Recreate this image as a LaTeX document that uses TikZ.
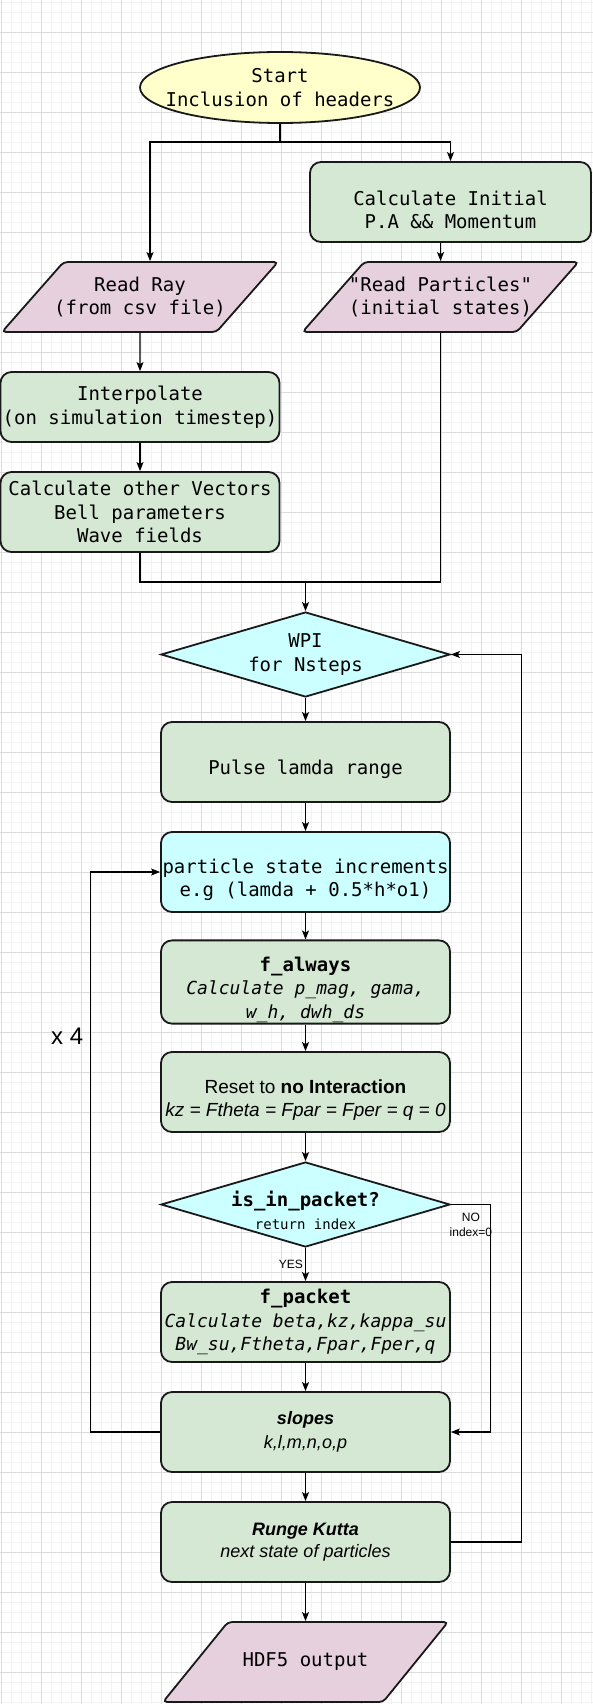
\documentclass[tikz,border=0pt]{standalone}
\usepackage{fontspec}
\setmainfont{Liberation Sans}
\setsansfont{Liberation Sans}
\setmonofont{DejaVu Sans Mono}
\usetikzlibrary{shapes.geometric,arrows.meta,positioning}

\definecolor{boxgreen}{HTML}{D5E8D4}
\definecolor{boxcyan}{HTML}{CCFFFF}
\definecolor{boxyellow}{HTML}{FFFFCC}
\definecolor{boxpurple}{HTML}{E6D0DE}
\definecolor{gridmajor}{HTML}{DCDCDC}
\definecolor{gridminor}{HTML}{F2F2F2}

\newcommand{\monotext}{\ttfamily\fontsize{19}{23.5}\selectfont}
\newcommand{\sanstext}{\sffamily\fontsize{19}{23}\selectfont}
\newcommand{\lowtop}{\rule{0pt}{30pt}}
\newcommand{\smallit}[1]{{\fontsize{18}{23}\selectfont\itshape #1}}

\tikzstyle{block} = [rectangle, rounded corners=11pt, minimum width=289, minimum height=80, inner sep=1pt, align=center, draw=black!90, line width=1.8pt, fill=boxgreen, font=\monotext]
\tikzstyle{block_c} = [block, fill=boxcyan]
\tikzstyle{io} = [trapezium, trapezium stretches body, trapezium left angle=48, trapezium right angle=132, rounded corners=4pt, minimum height=70, minimum width=276, inner xsep=-18pt, inner ysep=14pt, align=center, draw=black!90, line width=1.8pt, fill=boxpurple, font=\monotext]
\tikzstyle{decision} = [diamond, aspect=3.4, inner sep=-25pt, minimum width=289, minimum height=85, align=center, draw=black!90, line width=1.8pt, fill=boxcyan, font=\monotext]
\tikzstyle{terminal} = [ellipse, inner xsep=-30pt, inner ysep=0pt, minimum width=280, minimum height=71, align=center, draw=black!90, line width=1.8pt, fill=boxyellow, font=\monotext]
\tikzstyle{arrow} = [line width=1.1pt, -{Stealth[length=9pt,width=7pt,inset=2pt]}]
\tikzstyle{line} = [line width=1.1pt]
\tikzstyle{tag} = [font=\sffamily\fontsize{12}{15}\selectfont, inner sep=2pt, align=center]

\begin{document}
\begin{tikzpicture}[x=1pt, y=-1pt, node distance=110pt]
    \useasboundingbox (0,0) rectangle (593,1704);
    \fill[white] (0,0) rectangle (593,1704);
    % grid
    \foreach \gx in {1,11,...,591} \draw[gridminor, line width=0.8pt] (\gx,0) -- (\gx,1704);
    \foreach \gy in {2,12,...,1702} \draw[gridminor, line width=0.8pt] (0,\gy) -- (593,\gy);
    \foreach \gx in {1,41,...,561} \draw[gridmajor, line width=0.9pt] (\gx,0) -- (\gx,1704);
    \foreach \gy in {32,72,...,1672} \draw[gridmajor, line width=0.9pt] (0,\gy) -- (593,\gy);

    % set up
    \node (start) [terminal] at (280,87.5) {Start\\Inclusion of headers};
    \node (calcinit) [block, minimum width=281] at (450.5,202) {\lowtop Calculate Initial\\P.A \&\& Momentum};
    \node (readray) [io] at (140,297) {Read Ray\\(from csv file)};
    \node (readpart) [io, below of=calcinit, xshift=-10pt, yshift=15pt] {"Read Particles"\\(initial states)};
    \node (interp) [block, minimum width=279, minimum height=70, below of=readray] {Interpolate\\(on simulation timestep)};
    \node (calcvec) [block, minimum width=279, below of=interp, yshift=5pt] {Calculate other Vectors\\Bell parameters\\Wave fields};

    % main loop
    \node (wpi) [decision] at (305.5,654.5) {WPI\\for Nsteps};
    \node (pulse) [block, below of=wpi, yshift=2.5pt] {\lowtop Pulse lamda range};
    \node (particle) [block_c, below of=pulse] {\lowtop particle state increments\\e.g (lamda + 0.5*h*o1)};
    \node (falways) [block, below of=particle] {\lowtop\textbf{f\_always}\\\smallit{Calculate p\_mag, gama,}\\\smallit{w\_h, dwh\_ds}};
    \node (reset) [block, font=\sanstext, below of=falways] {\lowtop Reset to \textbf{no Interaction}\\\textit{kz = Ftheta = Fpar = Fper = q = 0}};
    \node (packetq) [decision, below of=reset, yshift=-2.5pt] {\rule{0pt}{27pt}\textbf{is\_in\_packet?}\\{\fontsize{14}{17}\selectfont return index}};
    \node (fpacket) [block, below of=packetq, yshift=-7.5pt] {\textbf{f\_packet}\\\smallit{Calculate beta,kz,kappa\_su}\\\smallit{Bw\_su,Ftheta,Fpar,Fper,q}};
    \node (slopes) [block, font=\sffamily\fontsize{18}{24}\selectfont, below of=fpacket] {\textbf{\textit{slopes}}\\\textit{k,l,m,n,o,p}};
    \node (runge) [block, font=\sffamily\fontsize{18}{22}\selectfont, below of=slopes] {\textbf{\textit{Runge Kutta}}\\\textit{next state of particles}};
    \node (hdf) [io, trapezium left angle=50.5, trapezium right angle=129.5, minimum width=285, minimum height=80, inner ysep=30.5pt, below of=runge, yshift=-10pt] {HDF5 output};

    % connectors
    \coordinate (split) at (280,142);
    \draw [line] (start.south) -- (split);
    \draw [arrow] (split) -| ([xshift=10pt]readray.north);
    \draw [arrow] (split) -| (calcinit.north);
    \draw [arrow] (calcinit.south -| readpart.north) -- (readpart.north);
    \draw [arrow] (readray.south) -- (interp.north);
    \draw [arrow] (interp) -- (calcvec);
    \coordinate (join) at (305.5,582);
    \draw [line] (calcvec.south) |- (join);
    \draw [line] (readpart.south) |- (join);
    \draw [arrow] (join) -- (wpi.north);

    \draw [arrow] (wpi) -- (pulse);
    \draw [arrow] (pulse) -- (particle);
    \draw [arrow] (particle) -- (falways);
    \draw [arrow] (falways) -- (reset);
    \draw [arrow] (reset) -- (packetq);
    \draw [arrow] (packetq.south) -- node[tag, midway, left] {YES} (fpacket.north);
    \draw [arrow] (packetq.east) -- node[tag, midway, below, yshift=-6pt] {NO\\index=0} ++(40,0) |- (slopes.east);
    \draw [arrow] (fpacket) -- (slopes);
    \draw [arrow] (slopes) -- (runge);
    \draw [arrow] (runge) -- (hdf);
    \draw [arrow] (slopes.west) -- ++(-70,0) |- node[pos=0.353, left, xshift=-3pt, font=\sffamily\fontsize{24}{28}\selectfont] {x 4} (particle.west);
    \draw [arrow] (runge.east) -- ++(71,0) |- (wpi.east);
\end{tikzpicture}
\end{document}
